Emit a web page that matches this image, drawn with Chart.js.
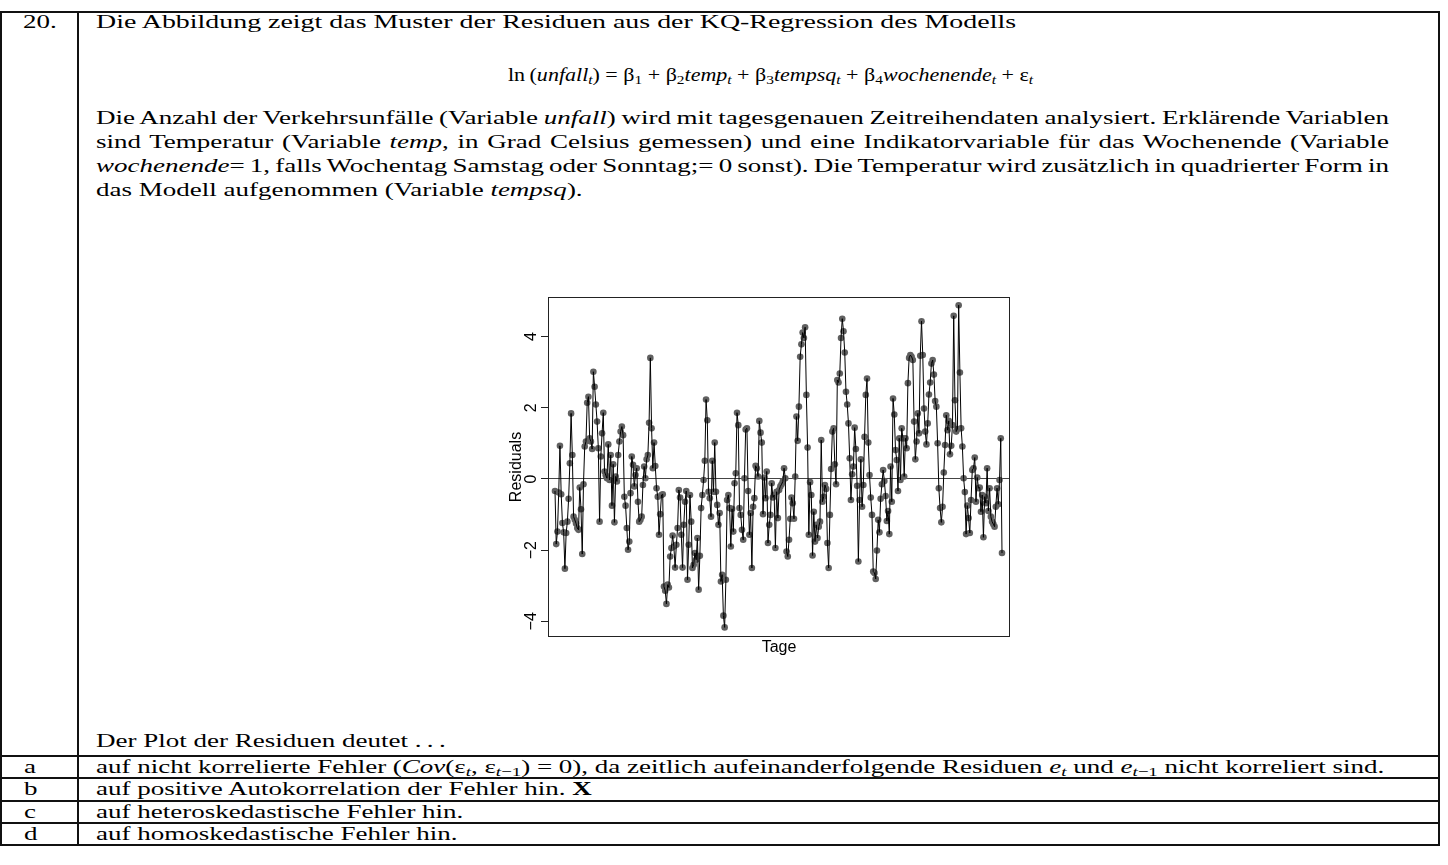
<!DOCTYPE html>
<html>
<head>
<meta charset="utf-8">
<script src="https://cdn.jsdelivr.net/npm/chart.js@4.4.0/dist/chart.umd.min.js"></script>
<style>
html, body { margin: 0; padding: 0; background: #fff; }
body { width: 1448px; height: 865px; position: relative; overflow: hidden;
       font-family: "Liberation Serif", "Times New Roman", serif; font-size: 27px; color: #000; }
/* the page text is set a bit flatter than it is wide */
.t { position: absolute; white-space: nowrap; line-height: 34px; transform-origin: 0 0; transform: scaleY(0.69); }
.v { position: absolute; background: #111; width: 2px; top: 11px; height: 835px; }
.h { position: absolute; background: #111; height: 2px; left: 0; width: 1440px; }
sub { font-size: 70%; vertical-align: -0.25em; line-height: 0; }
#wrap { position: absolute; left: 490px; top: 285px; width: 530px; height: 380px; }
</style>
</head>
<body>
<!-- table rules -->
<div class="h" style="top:11px"></div>
<div class="v" style="left:0px"></div>
<div class="v" style="left:77px"></div>
<div class="v" style="left:1438px"></div>
<div class="h" style="top:755px"></div>
<div class="h" style="top:777px"></div>
<div class="h" style="top:800px"></div>
<div class="h" style="top:822px"></div>
<div class="h" style="top:844px"></div>

<div class="t" style="left:23px;top:10px">20.</div>
<div class="t fit" data-w="920" style="left:96px;top:10px">Die Abbildung zeigt das Muster der Residuen aus der KQ-Regression des Modells</div>

<div class="t fit" data-w="525" data-c="770" style="left:0;top:63px">ln&thinsp;(<i>unfall<sub>t</sub></i>) = β<sub>1</sub> + β<sub>2</sub><i>temp<sub>t</sub></i> + β<sub>3</sub><i>tempsq<sub>t</sub></i> + β<sub>4</sub><i>wochenende<sub>t</sub></i> + ε<sub><i>t</i></sub></div>

<div class="t just" data-w="1293" style="left:96px;top:106px">Die Anzahl der Verkehrsunfälle (Variable <i>unfall</i>) wird mit tagesgenauen Zeitreihendaten analysiert. Erklärende Variablen</div>
<div class="t just" data-w="1293" style="left:96px;top:130px">sind Temperatur (Variable <i>temp</i>, in Grad Celsius gemessen) und eine Indikatorvariable für das Wochenende (Variable</div>
<div class="t just" data-w="1293" style="left:96px;top:154px"><i>wochenende</i>= 1, falls Wochentag Samstag oder Sonntag;= 0 sonst). Die Temperatur wird zusätzlich in quadrierter Form in</div>
<div class="t" style="left:96px;top:178px">das Modell aufgenommen (Variable <i>tempsq</i>).</div>

<div id="wrap"><canvas id="myChart"></canvas></div>

<div class="t" style="left:96px;top:729px">Der Plot der Residuen deutet .&thinsp;.&thinsp;.</div>
<div class="t" style="left:24px;top:755px">a</div>
<div class="t" style="left:96px;top:755px">auf nicht korrelierte Fehler (<i>Cov</i>(ε<sub><i>t</i></sub>, ε<sub><i>t</i>−1</sub>) = 0), da zeitlich aufeinanderfolgende Residuen <i>e<sub>t</sub></i> und <i>e</i><sub><i>t</i>−1</sub> nicht korreliert sind.</div>
<div class="t" style="left:24px;top:777px">b</div>
<div class="t" style="left:96px;top:777px">auf positive Autokorrelation der Fehler hin. <b>X</b></div>
<div class="t" style="left:24px;top:800px">c</div>
<div class="t" style="left:96px;top:800px">auf heteroskedastische Fehler hin.</div>
<div class="t" style="left:24px;top:822px">d</div>
<div class="t" style="left:96px;top:822px">auf homoskedastische Fehler hin.</div>

<script>
// residuals, one per day, left to right
const residuals = [
  -0.34, -1.83, -1.48, -0.38, 0.93, -0.43, -1.24, -1.5, -2.52, -1.52,
  -1.2, -0.56, 0.44, 1.84, 0.67, -1.06, -1.15, -1.25, -1.38, -1.43,
  -0.24, -0.85, -2.11, -0.15, 0.91, 1.05, 2.14, 2.31, 1.14, 1.05,
  0.84, 3.01, 2.59, 2.09, 1.61, 0.86, -1.2, 0.63, 1.28, 1.86,
  0.21, 0.1, 0.02, 0.97, -0.03, 0.67, -0.75, 0.41, -1.22, 0.07,
  -0.07, 0.67, 1.05, 1.33, 1.47,
  1.23, -0.5, -0.75, -1.38, -1.99, -1.76, -0.4, 0.63, 0.4, -0.21,
  0.11, 0.3, -0.64, -1.2, -1.15, -1.06, -0.17, 0.35, 0.02, 0.55,
  0.67, 1.58, 3.4,
  1.42, 0.3, 1.02, 0.36, -0.26, -0.5, -1.57, -0.99, -0.45, -0.43,
  -3.02, -3.14, -3.51, -2.97, -3.05, -2.18, -1.94, -1.59, -1.9, -2.49,
  -1.85, -1.38, -0.31, -0.52, -1.57, -2.49, -1.29, -0.64, -0.34, -2.83,
  -1.85, -0.45, -1.2, -2.5, -2.41,
  -2.08, -2.27, -1.66, -3.11, -2.16, -0.82, -0.45, -0.03, 0.51, 2.23,
  1.65, -0.36, -0.54, -1.06, 0.51, -0.36, 1.02, -0.36, -0.73, -1.29,
  -0.96, -2.88, -2.69, -3.84, -4.17, -2.83, -0.59, -0.45, -0.82, -1.9,
  -0.84, -1.48, -0.12, 0.16, 1.86, 1.51, -0.82, -1.01, -1.43, -1.71,
  0.02, 1.39, 1.42, -0.34, -1.57, -0.96, -2.5, -0.78, -0.54, 0.37,
  0.3, 0.07, 1.63, 1.3, 1.02, -0.99, 0.04, -0.54, 0.21, -1.8,
  -1.29, -1.01, -0.12, -0.52, -0.45, -1.94,
  -0.36, -1.1, -0.31, -0.21, -0.15, -0.07, 0.3, 0.02, -2.04, -2.18,
  -1.71, -1.12, -0.52, -0.68, -1.12, 0.07, 1.75, 1.07, 2.03, 3.43,
  3.78, 4.11, 3.96, 4.26, 2.36, 0.88, -1.57, -0.09, -0.45, -2.15,
  -0.92, -1.76, -1.29, -1.66, -1.34, -1.2, 1.09, -0.64, -0.5, -0.17,
  -0.28, -1.8, -2.5, -1.01, 0.28, 1.33, 1.42, 0.41, -0.15, 2.78,
  2.71, 2.96, 3.96, 4.5, 4.15, 3.55, 2.45, 2.09, 1.56, 0.58,
  -0.59,
  0.13, 0.35, 1.44, 0.84, -0.19, -2.32, -0.59, 0.55, -0.78, -0.17,
  1.18, 2.36, 2.82, 1.02, 0.11, -0.52, -1.01, -2.6, -2.64, -2.81,
  -2.01, -1.15, -1.5, -0.56, -0.15, 0.25, -0.06, -0.48, -1.18, -0.9,
  -1.55, 0.35, -0.64, 2.26, 1.81, 0.81, 0.53, -0.34, 1.14, -0.03,
  1.42, 1.14, 0.07, 1.14, 0.86, 2.69, 3.4, 3.48, 3.43, 3.34,
  1.61, 0.55, 1.05, 1.84, 1.28, 3.46, 4.43,
  3.48, 1.98, 1.33, 0.97, 1.56, 2.37, 2.71, 3.24, 3.34, 2.93,
  2.19, 2.03, 1.0, -0.26, -0.82, -1.22, -0.78, 0.18, 0.95, 1.79,
  1.37, 1.63, 0.69, 0.93, 1.51, 4.58, 2.21, 1.33, 1.4, 4.88,
  2.99, 1.42, 0.91, 0.02, -0.37, -1.55, -0.75, -1.1, -1.52, -0.59,
  0.25, 0.3, 0.6, -0.64, 0.04, -0.26, -0.24, -0.92, -0.45, -1.64,
  -0.5, -0.68, 0.3, -0.9, -0.26, -1.06, -1.2, -1.27, -1.34, -0.78,
  -0.26, -0.71, -0.03, 1.14, -2.08
];
const days = residuals.map((v, i) => i + 1);
const yTicks = [-4, -2, 0, 2, 4];
const yTickLabels = ["\u22124", "\u22122", "0", "2", "4"];
const yTitle = "Residuals";
const xTitle = "Tage";

const SQUASH = 0.69;

// stretch / squeeze the justified paragraph lines to the column width
document.querySelectorAll(".just").forEach(function (el) {
    let target = +el.dataset.w;
    let natural = el.getBoundingClientRect().width;
    let spaces = (el.textContent.match(/ /g) || []).length;
    el.style.wordSpacing = ((target - natural) / spaces) + "px";
});
// lines that only need their width matched
document.querySelectorAll(".fit").forEach(function (el) {
    let target = +el.dataset.w;
    let natural = el.getBoundingClientRect().width;
    el.style.transform = "scale(" + (target / natural) + "," + SQUASH + ")";
    if (el.dataset.c) el.style.left = (+el.dataset.c - target / 2) + "px";
});

let points = days.map((d, i) => ({ x: d, y: residuals[i] }));
let step = 447 / (days.length - 1);   // px between days inside the box

// R style frame round the plot area
const boxPlugin = {
    id: "box",
    afterDraw(chart) {
        let a = chart.chartArea, ctx = chart.ctx;
        ctx.save();
        ctx.strokeStyle = "#222";
        ctx.lineWidth = 1;
        ctx.strokeRect(a.left + 0.5, a.top + 0.5, a.right - a.left - 1, a.bottom - a.top - 1);
        ctx.restore();
    }
};

Chart.defaults.font.family = "Liberation Sans, Arial, sans-serif";
Chart.defaults.color = "#000";

new Chart("myChart", {
    type: "scatter",
    data: {
        datasets: [{
            data: points,
            showLine: true,
            borderColor: "#000",
            borderWidth: 1,
            pointRadius: 0,
            tension: 0
        }, {
            data: points,
            showLine: false,
            pointRadius: 3.3,
            pointBackgroundColor: "#606060",
            pointBorderWidth: 0
        }]
    },
    options: {
        responsive: true,
        maintainAspectRatio: false,
        animation: false,
        layout: { padding: { top: 12, right: 10, left: 0, bottom: 0 } },
        plugins: { legend: { display: false }, tooltip: { enabled: false } },
        scales: {
            x: {
                type: "linear",
                min: 1 - 7 / step,
                max: days.length + 8 / step,
                ticks: { display: false },
                grid: { display: false },
                border: { display: false },
                title: { display: true, text: xTitle, font: { size: 16 }, padding: { top: 0, bottom: 8 } },
                afterFit(scale) { scale.height = 28; }
            },
            y: {
                min: -4.44,
                max: 5.11,
                afterBuildTicks(scale) { scale.ticks = yTicks.map(v => ({ value: v })); },
                ticks: {
                    minRotation: 90,
                    maxRotation: 90,
                    crossAlign: "center",
                    padding: 0,
                    font: { size: 16 },
                    callback: (v) => yTickLabels[yTicks.indexOf(v)]
                },
                grid: {
                    drawOnChartArea: true,
                    tickLength: 7,
                    tickColor: "#222",
                    color: (ctx) => (ctx.tick && ctx.tick.value === 0 ? "#444" : "rgba(0,0,0,0)")
                },
                border: { display: false },
                title: { display: true, text: yTitle, font: { size: 16 }, padding: { top: 17, bottom: 0 } },
                afterFit(scale) { scale.width = 58; }
            }
        }
    },
    plugins: [boxPlugin]
});
</script>
</body>
</html>
